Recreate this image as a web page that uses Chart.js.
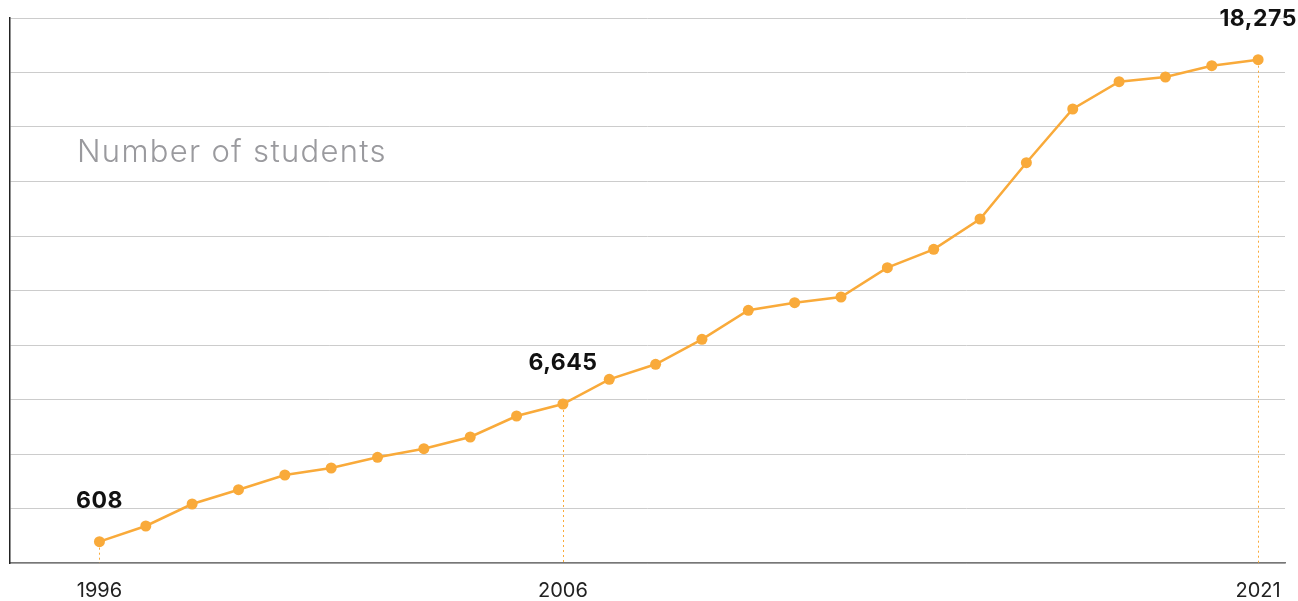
<!DOCTYPE html>
<html>
<head>
<meta charset="utf-8">
<script src="https://cdn.jsdelivr.net/npm/chart.js@4.4.1/dist/chart.umd.min.js"></script>
<style>
  html, body { margin: 0; padding: 0; background: #ffffff; }
  #wrap { width: 1298px; height: 601px; position: relative; }
</style>
</head>
<body>
<div id="wrap"><canvas id="c" width="1298" height="601"></canvas></div>
<script>
// ---- data ----
const years = [1996,1997,1998,1999,2000,2001,2002,2003,2004,2005,2006,2007,2008,
               2009,2010,2011,2012,2013,2014,2015,2016,2017,2018,2019,2020,2021];
const students = [782,1358,2165,2690,3229,3486,3879,4195,4624,5394,5835,6741,7292,
                  8209,9273,9552,9761,10837,11512,12624,14690,16661,17662,17835,18250,18470];
const tickYears = [1996, 2006, 2021];
const highlightYears = [1996, 2006, 2021];
const highlightLabels = ['608', '6,645', '18,275'];
const yTicks = [0,2000,4000,6000,8000,10000,12000,14000,16000,18000,20000];
const chartLabel = 'Number of students';

const FONT = 'Inter, "Noto Sans", "DejaVu Sans", sans-serif';
const ORANGE = '#F9AA3A';

const annotatePlugin = {
  id: 'annotate',
  afterDatasetsDraw(chart) {
    const ctx = chart.ctx;
    const meta = chart.getDatasetMeta(0);
    const area = chart.chartArea;
    ctx.save();
    // dotted drop lines
    highlightYears.forEach((yr) => {
      const idx = years.indexOf(yr);
      const pt = meta.data[idx];
      ctx.beginPath();
      ctx.setLineDash([2, 3]);
      ctx.strokeStyle = ORANGE;
      ctx.lineWidth = 1;
      ctx.moveTo(Math.round(pt.x) + 0.5, pt.y + 6);
      ctx.lineTo(Math.round(pt.x) + 0.5, area.bottom);
      ctx.stroke();
    });
    ctx.setLineDash([]);
    // labels
    ctx.fillStyle = '#111111';
    ctx.font = '700 23px ' + FONT;
    ctx.letterSpacing = '0.5px';
    ctx.textAlign = 'center';
    ctx.textBaseline = 'middle';
    highlightYears.forEach((yr, i) => {
      const idx = years.indexOf(yr);
      const pt = meta.data[idx];
      ctx.fillText(highlightLabels[i], pt.x, pt.y - 41);
    });
    // series title inside chart
    ctx.fillStyle = '#9a9a9e';
    ctx.font = '300 31px ' + FONT;
    ctx.letterSpacing = '1.3px';
    ctx.textAlign = 'left';
    ctx.fillText(chartLabel, 77, 153);
    ctx.restore();
  }
};

new Chart(document.getElementById('c'), {
  type: 'line',
  data: {
    datasets: [{
      data: years.map((y, i) => ({ x: y, y: students[i] })),
      borderColor: ORANGE,
      backgroundColor: ORANGE,
      borderWidth: 2.5,
      pointRadius: 5.5,
      pointBorderWidth: 0,
      pointBackgroundColor: ORANGE,
      tension: 0,
      clip: false
    }]
  },
  options: {
    responsive: false,
    animation: false,
    devicePixelRatio: 1,
    layout: { padding: { left: 10, right: 13, top: 18, bottom: -18 } },
    plugins: { legend: { display: false }, tooltip: { enabled: false } },
    scales: {
      x: {
        type: 'linear',
        min: 1994.07,
        max: 2021.58,
        afterBuildTicks(axis) { axis.ticks = tickYears.map(v => ({ value: v })); },
        ticks: {
          callback: (v) => String(v),
          color: '#222222',
          font: { family: FONT, size: 20 },
          padding: 16,
          maxRotation: 0,
          autoSkip: false
        },
        grid: { display: false, drawTicks: false },
        border: { display: true, color: '#777777', width: 1.5 }
      },
      y: {
        min: 0,
        max: 20000,
        afterBuildTicks(axis) { axis.ticks = yTicks.map(v => ({ value: v })); },
        ticks: { display: false },
        grid: { color: '#cccccc', lineWidth: 1, drawTicks: false },
        border: { display: true, color: '#222222', width: 1.5 }
      }
    }
  },
  plugins: [annotatePlugin]
});
</script>
</body>
</html>
